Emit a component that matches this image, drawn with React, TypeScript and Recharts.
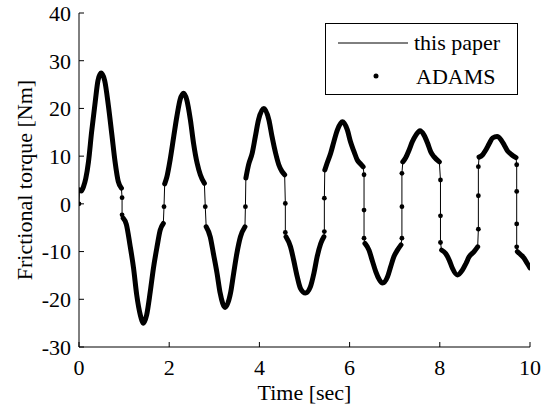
import React from 'react';
import { ComposedChart, Line, XAxis, YAxis, Legend } from 'recharts';

// Smooth segments of the frictional torque (time in s, torque in Nm)
const lobeTime = [
  0.01, 0.05, 0.10, 0.15, 0.21, 0.28, 0.36, 0.42, 0.49, 0.57, 0.65, 0.73, 0.80, 0.87, 0.94,
  0.98, 1.05, 1.13, 1.21, 1.28, 1.36, 1.43, 1.50, 1.58, 1.65, 1.73, 1.80, 1.87,
  1.90, 1.95, 2.02, 2.10, 2.17, 2.24, 2.32, 2.39, 2.47, 2.54, 2.62, 2.69, 2.78,
  2.82, 2.91, 2.98, 3.06, 3.13, 3.24, 3.36, 3.43, 3.50, 3.58, 3.68,
  3.70, 3.76, 3.84, 3.91, 3.98, 4.10, 4.21, 4.28, 4.36, 4.43, 4.50, 4.56,
  4.59, 4.69, 4.76, 4.84, 4.91, 5.02, 5.13, 5.21, 5.28, 5.36, 5.43,
  5.45, 5.50, 5.58, 5.65, 5.73, 5.84, 5.95, 6.02, 6.10, 6.17, 6.24, 6.30,
  6.34, 6.43, 6.50, 6.58, 6.66, 6.73, 6.84, 6.91, 6.98, 7.06, 7.14,
  7.18, 7.24, 7.32, 7.39, 7.47, 7.56, 7.65, 7.73, 7.80, 7.87, 7.99,
  8.04, 8.13, 8.21, 8.28, 8.39, 8.50, 8.58, 8.65, 8.76, 8.84,
  8.87, 8.95, 9.02, 9.10, 9.17, 9.27, 9.36, 9.43, 9.50, 9.58, 9.69,
  9.72, 9.80, 9.87, 9.94, 10.0,
];
const lobeTorque = [
  2.9, 2.7, 3.6, 5.3, 8.8, 15.1, 21.4, 25.8, 27.4, 25.8, 20.7, 14.4, 8.8, 4.7, 3.3,
  -3.0, -4.3, -8.6, -13.5, -19.1, -23.3, -25.0, -23.3, -18.4, -13.5, -9.0, -5.5, -4.1,
  4.2, 5.7, 9.2, 14.1, 18.3, 21.8, 23.2, 21.8, 17.6, 12.7, 8.5, 6.1, 4.3,
  -4.8, -6.9, -10.4, -14.5, -18.7, -21.7, -18.7, -14.5, -10.4, -6.9, -4.8,
  5.4, 8.2, 10.6, 14.1, 17.6, 20.0, 17.6, 14.1, 10.6, 8.2, 6.8, 6.1,
  -6.9, -9.0, -11.8, -15.3, -17.7, -18.7, -17.4, -14.5, -11.1, -8.3, -6.9,
  7.1, 8.5, 10.6, 13.0, 15.5, 17.2, 15.5, 13.0, 10.9, 9.2, 8.4, 7.8,
  -8.3, -9.7, -11.8, -14.2, -15.9, -16.6, -15.3, -13.2, -11.1, -9.7, -8.6,
  8.8, 9.6, 11.3, 13.0, 14.4, 15.3, 14.4, 12.7, 10.9, 9.9, 8.8,
  -9.7, -10.4, -11.8, -13.5, -14.9, -13.9, -12.5, -11.1, -10.0, -9.0,
  9.8, 10.3, 11.3, 12.7, 13.8, 14.1, 13.4, 12.3, 11.1, 10.4, 9.7,
  -10.0, -10.7, -11.4, -12.5, -13.4,
];

// Sparse ADAMS samples during the sign changes
const jumpTime = [
  0.0, 0.955, 0.955, 1.885, 2.80, 3.69, 4.575, 4.575, 5.44, 5.44,
  6.32, 6.32, 6.32, 7.16, 7.16, 7.16, 8.015, 8.015, 8.015,
  8.855, 8.855, 8.855, 9.705, 9.705, 9.705, 9.705,
];
const jumpTorque = [
  0.0, 1.3, -2.3, -0.6, -0.6, -0.6, 0.1, -6.0, -5.8, 1.2,
  6.1, -1.3, -7.2, -7.2, -0.6, 6.4, 5.0, -2.5, -8.1,
  -5.3, 1.7, 7.8, 8.2, 2.6, -4.2, -9.0,
];

const xTicks = [0, 2, 4, 6, 8, 10];
const yTicks = [-30, -20, -10, 0, 10, 20, 30, 40];

const FONT = '"Liberation Serif", "Times New Roman", serif';

type Row = { t: number; paper: number | null; adams: number | null; jump: number | null };

const rows: Row[] = [
  ...lobeTime.map((t, i) => ({ t, paper: lobeTorque[i], adams: lobeTorque[i], jump: null })),
  ...jumpTime.map((t, i) => ({ t, paper: jumpTorque[i], adams: null, jump: jumpTorque[i] })),
].sort((a, b) => a.t - b.t);

const NoLabel = () => <g />;

const LegendBox = () => (
  <svg width={193} height={72} style={{ display: 'block' }}>
    <rect x={0.5} y={0.5} width={192} height={71} fill="#fff" stroke="#000" strokeWidth={1} />
    <line x1={13} x2={83} y1={20} y2={20} stroke="#000" strokeWidth={1} />
    <text x={89} y={27} fontFamily={FONT} fontSize={22} fill="#000">this paper</text>
    <circle cx={51} cy={53} r={2.5} fill="#000" />
    <text x={91} y={61} fontFamily={FONT} fontSize={22} fill="#000">ADAMS</text>
  </svg>
);

export default function App() {
  return (
    <div style={{ position: 'absolute', left: 0, top: 0 }}>
      <ComposedChart
        width={545}
        height={413}
        data={rows}
        margin={{ top: 13, right: 15, bottom: 26, left: 19 }}
      >
        <XAxis
          dataKey="t"
          type="number"
          domain={[0, 10]}
          ticks={xTicks}
          allowDataOverflow
          height={40}
          stroke="#000"
          tickSize={-5}
          tickMargin={17}
          tick={{ fontFamily: FONT, fontSize: 22, fill: '#000' }}
          label={(props: any) => {
            const vb = props.viewBox;
            return (
              <text x={vb.x + vb.width / 2} y={vb.y + 52.5} textAnchor="middle" fontFamily={FONT} fontSize={22} fill="#000">
                Time [sec]
              </text>
            );
          }}
        />
        <XAxis
          xAxisId="top"
          orientation="top"
          dataKey="t"
          type="number"
          domain={[0, 10]}
          ticks={xTicks}
          allowDataOverflow
          height={0}
          stroke="#000"
          tickSize={-5}
          tick={<NoLabel />}
        />
        <YAxis
          type="number"
          domain={[-30, 40]}
          ticks={yTicks}
          allowDataOverflow
          width={60}
          stroke="#000"
          tickSize={-5}
          tickMargin={13}
          tick={{ fontFamily: FONT, fontSize: 22, fill: '#000' }}
          label={(props: any) => {
            const vb = props.viewBox;
            const x = vb.x + 13;
            const y = vb.y + vb.height / 2;
            return (
              <text x={x} y={y} transform={`rotate(-90, ${x}, ${y})`} textAnchor="middle" fontFamily={FONT} fontSize={22} fill="#000">
                Frictional torque [Nm]
              </text>
            );
          }}
        />
        <YAxis
          yAxisId="right"
          orientation="right"
          type="number"
          domain={[-30, 40]}
          ticks={yTicks}
          allowDataOverflow
          width={0}
          stroke="#000"
          tickSize={-5}
          tick={<NoLabel />}
        />
        <Line
          dataKey="adams"
          type="monotone"
          stroke="#000"
          strokeWidth={5}
          strokeLinecap="round"
          strokeLinejoin="round"
          dot={false}
          connectNulls={false}
          isAnimationActive={false}
          legendType="none"
        />
        <Line
          dataKey="paper"
          type="linear"
          stroke="#000"
          strokeWidth={1}
          dot={false}
          connectNulls
          isAnimationActive={false}
        />
        <Line
          dataKey="jump"
          type="linear"
          stroke="none"
          dot={{ r: 2.4, fill: '#000', stroke: 'none' }}
          connectNulls={false}
          isAnimationActive={false}
        />
        <Legend
          layout="vertical"
          align="center"
          verticalAlign="middle"
          wrapperStyle={{ left: 325, top: 23, width: 193, height: 72 }}
          content={() => <LegendBox />}
        />
      </ComposedChart>
    </div>
  );
}
